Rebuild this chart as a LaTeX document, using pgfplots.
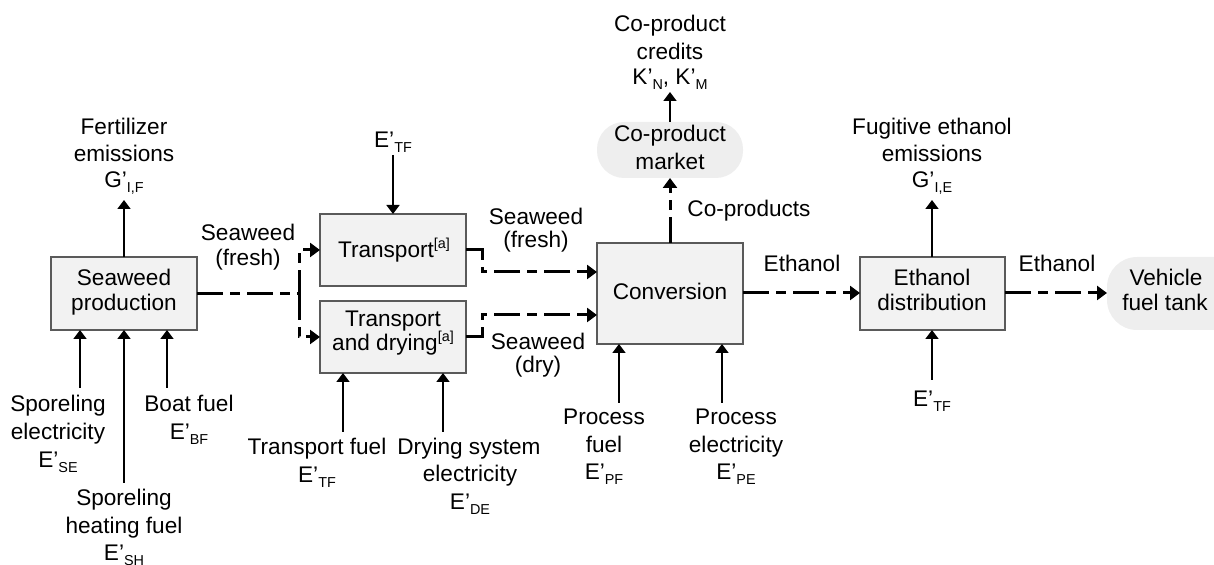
\documentclass[border=0pt]{standalone}
\usepackage{pgfplots}
\pgfplotsset{compat=1.18}
\usetikzlibrary{arrows.meta}
\usepackage{fontspec}
\setmainfont{Liberation Sans}

\definecolor{boxfill}{HTML}{F2F2F2}
\definecolor{boxline}{HTML}{5A5A5A}
\definecolor{roundfill}{HTML}{EEEEEE}

% subscripts / superscripts as in the original drawing
\newcommand{\sub}[1]{\raisebox{-0.35ex}{\fontsize{7.2}{8}\selectfont #1}}
\newcommand{\supa}[1]{\raisebox{0.8ex}{\fontsize{7.2}{8}\selectfont #1}}

\begin{document}
\begin{tikzpicture}[
    lbl/.style={font=\fontsize{11.3}{13}\selectfont, anchor=base, inner sep=0pt},
    box/.style={fill=boxfill, draw=boxline, line width=0.65pt},
    flow/.style={draw=black, line width=0.8pt, -{Triangle[length=4.5pt,width=6.5pt]}},
    prod/.style={draw=black, line width=1.5pt, dash pattern=on 13pt off 3.5pt on 5pt off 3.5pt,
                 -{Triangle[length=5pt,width=7pt]}},
  ]
\begin{axis}[
    hide axis, scale only axis,
    width=607pt, height=282.5pt,
    xmin=0, xmax=1214, ymin=0, ymax=565,
    y dir=reverse, clip=false,
  ]
% process boxes
\addplot[box] coordinates {(51,257) (197,257) (197,330) (51,330)} -- cycle;
\addplot[box] coordinates {(320,214) (466,214) (466,286) (320,286)} -- cycle;
\addplot[box] coordinates {(320,301) (466,301) (466,373) (320,373)} -- cycle;
\addplot[box] coordinates {(597,243) (743,243) (743,344) (597,344)} -- cycle;
\addplot[box] coordinates {(860,257) (1005,257) (1005,330) (860,330)} -- cycle;
% rounded end points
\addplot[fill=roundfill, draw=none, rounded corners=13.5pt] coordinates {(597,122) (743,122) (743,178) (597,178)} -- cycle;
\addplot[fill=roundfill, draw=none, rounded corners=15pt] coordinates {(1107,257) (1270,257) (1270,330) (1107,330)} -- cycle;

% energy / emission arrows
\addplot[flow] coordinates {(124,257) (124,200)};
\addplot[flow] coordinates {(80,388) (80,330)};
\addplot[flow] coordinates {(124,483) (124,330)};
\addplot[flow] coordinates {(167,388) (167,330)};
\addplot[flow] coordinates {(393,155) (393,214)};
\addplot[flow] coordinates {(343,432) (343,373)};
\addplot[flow] coordinates {(443,432) (443,373)};
\addplot[flow] coordinates {(619,403) (619,344)};
\addplot[flow] coordinates {(722,403) (722,344)};
\addplot[flow] coordinates {(670,122) (670,92)};
\addplot[flow] coordinates {(932,257) (932,200)};
\addplot[flow] coordinates {(932,380) (932,330)};

% product flows
\addplot[prod] coordinates {(197,294) (299,294) (299,250) (320,250)};
\addplot[prod] coordinates {(299,294) (299,337) (320,337)};
\addplot[prod] coordinates {(466,250) (482,250) (482,272) (597,272)};
\addplot[prod] coordinates {(466,337) (482,337) (482,315) (597,315)};
\addplot[prod] coordinates {(670,243) (670,178)};
\addplot[prod] coordinates {(743,293) (860,293)};
\addplot[prod] coordinates {(1005,293) (1107,293)};

% labels
\node[lbl] at (axis cs:124,135) {Fertilizer};
\node[lbl] at (axis cs:124,162) {emissions};
\node[lbl] at (axis cs:124,188) {G’\sub{I,F}};
\node[lbl] at (axis cs:124,286) {Seaweed};
\node[lbl] at (axis cs:124,311) {production};
\node[lbl] at (axis cs:58,412) {Sporeling};
\node[lbl] at (axis cs:58,440) {electricity};
\node[lbl] at (axis cs:58,468) {E’\sub{SE}};
\node[lbl] at (axis cs:189,412) {Boat fuel};
\node[lbl] at (axis cs:189,440) {E’\sub{BF}};
\node[lbl] at (axis cs:124,506) {Sporeling};
\node[lbl] at (axis cs:124,534) {heating fuel};
\node[lbl] at (axis cs:124,561) {E’\sub{SH}};
\node[lbl] at (axis cs:248,241) {Seaweed};
\node[lbl] at (axis cs:248,266) {(fresh)};
\node[lbl] at (axis cs:393,148) {E’\sub{TF}};
\node[lbl] at (axis cs:394,258) {Transport\supa{[a]}};
\node[lbl] at (axis cs:393,327) {Transport};
\node[lbl] at (axis cs:393,351) {and drying\supa{[a]}};
\node[lbl] at (axis cs:536,225) {Seaweed};
\node[lbl] at (axis cs:536,248) {(fresh)};
\node[lbl] at (axis cs:538,350) {Seaweed};
\node[lbl] at (axis cs:538,373) {(dry)};
\node[lbl] at (axis cs:317,455) {Transport fuel};
\node[lbl] at (axis cs:317,483) {E’\sub{TF}};
\node[lbl] at (axis cs:469,455) {Drying system};
\node[lbl] at (axis cs:470,482) {electricity};
\node[lbl] at (axis cs:470,510) {E’\sub{DE}};
\node[lbl] at (axis cs:670,32) {Co-product};
\node[lbl] at (axis cs:670,60) {credits};
\node[lbl] at (axis cs:670,85) {K’\sub{N}, K’\sub{M}};
\node[lbl] at (axis cs:670,142) {Co-product};
\node[lbl] at (axis cs:670,170) {market};
\node[lbl] at (axis cs:749,217) {Co-products};
\node[lbl] at (axis cs:670,300) {Conversion};
\node[lbl] at (axis cs:604,425) {Process};
\node[lbl] at (axis cs:604,453) {fuel};
\node[lbl] at (axis cs:604,480) {E’\sub{PF}};
\node[lbl] at (axis cs:736,425) {Process};
\node[lbl] at (axis cs:736,453) {electricity};
\node[lbl] at (axis cs:736,480) {E’\sub{PE}};
\node[lbl] at (axis cs:802,272) {Ethanol};
\node[lbl] at (axis cs:932,135) {Fugitive ethanol};
\node[lbl] at (axis cs:932,162) {emissions};
\node[lbl] at (axis cs:932,188) {G’\sub{I,E}};
\node[lbl] at (axis cs:932,286) {Ethanol};
\node[lbl] at (axis cs:932,311) {distribution};
\node[lbl] at (axis cs:1057,272) {Ethanol};
\node[lbl] at (axis cs:1166,286) {Vehicle};
\node[lbl] at (axis cs:1165,311) {fuel tank};
\node[lbl] at (axis cs:932,407) {E’\sub{TF}};
\end{axis}
\pgfresetboundingbox
\useasboundingbox (current axis.south west) rectangle (current axis.north east);
\end{tikzpicture}
\end{document}
